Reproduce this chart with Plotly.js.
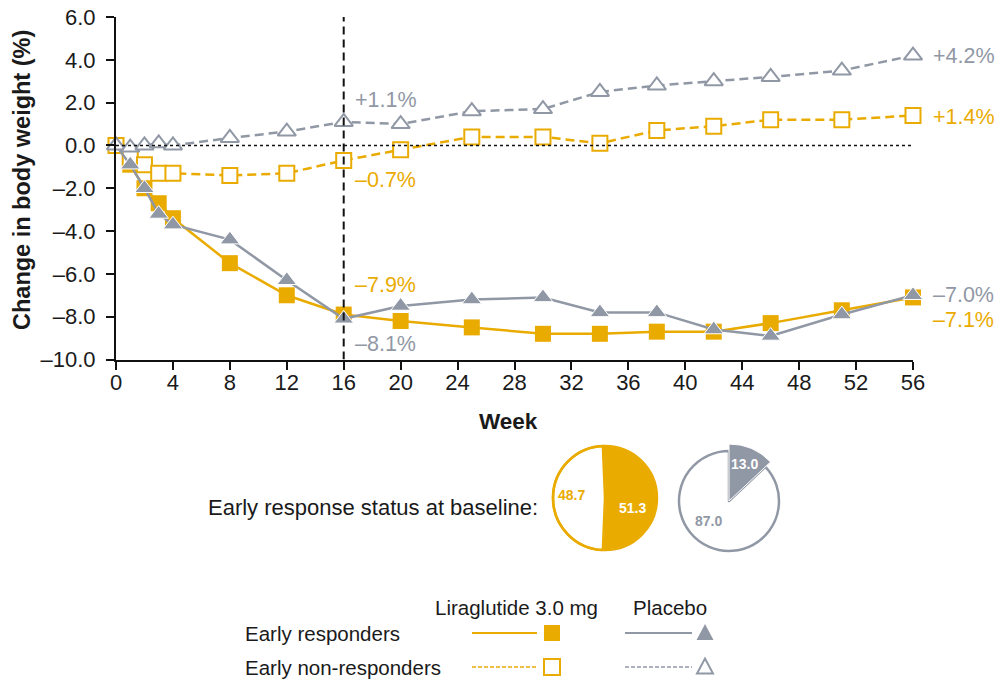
<!DOCTYPE html>
<html>
<head>
<meta charset="utf-8">
<script src="https://cdn.plot.ly/plotly-3.0.1.min.js"></script>
<style>
  html, body { margin: 0; padding: 0; background: #fff; }
  #chart { width: 1001px; height: 679px; }
</style>
</head>
<body>
<div id="chart"></div>
<script>
// Study weeks at which body weight was measured
const weeks = [0, 1, 2, 3, 4, 8, 12, 16, 20, 25, 30, 34, 38, 42, 46, 51, 56];

// Mean change in body weight (%) by treatment and early-response status
const liraResponders     = [0, -0.9, -2.0, -2.7, -3.4, -5.5, -7.0, -7.9, -8.2, -8.5, -8.8, -8.8, -8.7, -8.7, -8.3, -7.7, -7.1];
const liraNonResponders  = [0, -0.6, -0.9, -1.3, -1.3, -1.4, -1.3, -0.7, -0.2, 0.4, 0.4, 0.1, 0.7, 0.9, 1.2, 1.2, 1.4];
const placeboResponders  = [0, -0.9, -2.0, -3.2, -3.7, -4.4, -6.3, -8.1, -7.5, -7.2, -7.1, -7.8, -7.8, -8.6, -8.9, -7.9, -7.0];
const placeboNonResponders = [0, -0.1, 0.0, 0.1, 0.0, 0.35, 0.65, 1.1, 1.0, 1.6, 1.7, 2.5, 2.8, 3.0, 3.2, 3.5, 4.2];

// Axis ticks
const xTickVals = [0, 4, 8, 12, 16, 20, 24, 28, 32, 36, 40, 44, 48, 52, 56];
const yTickVals = [-10, -8, -6, -4, -2, 0, 2, 4, 6];
const yTickText = ['\u201310.0', '\u20138.0', '\u20136.0', '\u20134.0', '\u20132.0', '0.0', '2.0', '4.0', '6.0'];

// Share of patients (%) by early-response status at baseline
const pieLabels = ['Early responders', 'Early non-responders'];
const liraShares = [51.3, 48.7];
const placeboShares = [13.0, 87.0];

const GOLD = '#EAAB00';
const GRAY = '#9198A5';
const INK = '#1a1a1a';
const FONT = 'Arial, "Liberation Sans", Helvetica, sans-serif';
const W = 1001, H = 679;
const px = x => x / W;            // pixel -> paper (horizontal)
const py = y => 1 - y / H;        // pixel -> paper (vertical)

const fmtPct = v => (v > 0 ? '+' : '\u2013') + Math.abs(v).toFixed(1) + '%';
const fmtShare = v => v.toFixed(1);

const lineW = 2.5;
const dashed = '9px,5px';

const traces = [
  {
    x: weeks, y: liraResponders, type: 'scatter', mode: 'lines+markers', cliponaxis: false,
    line: { color: GOLD, width: lineW },
    marker: { symbol: 'square', size: 16, color: GOLD, line: { width: 0 } },
    hoverinfo: 'x+y'
  },
  {
    x: weeks, y: liraNonResponders, type: 'scatter', mode: 'lines+markers', cliponaxis: false,
    line: { color: GOLD, width: lineW, dash: dashed },
    marker: { symbol: 'square', size: 15, color: '#fff', line: { color: GOLD, width: 2 } },
    hoverinfo: 'x+y'
  },
  {
    x: weeks, y: placeboResponders, type: 'scatter', mode: 'lines+markers', cliponaxis: false,
    line: { color: GRAY, width: lineW },
    marker: { symbol: 'triangle-up', size: 17, color: GRAY, line: { color: '#fff', width: 1 } },
    hoverinfo: 'x+y'
  },
  {
    x: weeks, y: placeboNonResponders, type: 'scatter', mode: 'lines+markers', cliponaxis: false,
    line: { color: GRAY, width: lineW, dash: dashed },
    marker: { symbol: 'triangle-up', size: 16, color: '#fff', line: { color: GRAY, width: 2 } },
    hoverinfo: 'x+y'
  },
  // Baseline share of early responders, liraglutide 3.0 mg (responder wedge centred on the right)
  {
    type: 'pie', values: liraShares, labels: pieLabels, sort: false, direction: 'clockwise',
    rotation: 90 - liraShares[0] / 100 * 180,
    domain: { x: [px(553), px(657)], y: [py(550), py(446)] },
    marker: { colors: [GOLD, '#fff'], line: { color: ['#fff', GOLD], width: [1.5, 2.5] } },
    textinfo: 'none', hoverinfo: 'label+value', showlegend: false
  },
  // Outline ring of the liraglutide pie
  {
    type: 'pie', values: [1], labels: ['All'], sort: false,
    domain: { x: [px(553), px(657)], y: [py(550), py(446)] },
    marker: { colors: ['rgba(0,0,0,0)'], line: { color: GOLD, width: 2.5 } },
    textinfo: 'none', hoverinfo: 'skip', showlegend: false
  },
  // Baseline share of early responders, placebo (ring)
  {
    type: 'pie', values: placeboShares, labels: pieLabels, sort: false, direction: 'clockwise',
    domain: { x: [px(679), px(779)], y: [py(551), py(451)] },
    marker: { colors: ['rgba(0,0,0,0)', '#fff'], line: { color: ['rgba(0,0,0,0)', GRAY], width: 2.5 } },
    textinfo: 'none', hoverinfo: 'label+value', showlegend: false
  },
  // Placebo early-responder wedge, drawn slightly larger
  {
    type: 'pie', values: placeboShares, labels: pieLabels, sort: false, direction: 'clockwise',
    domain: { x: [px(672), px(786)], y: [py(558), py(444)] },
    marker: { colors: [GRAY, 'rgba(0,0,0,0)'], line: { color: ['#fff', 'rgba(0,0,0,0)'], width: [1, 0] } },
    textinfo: 'none', hoverinfo: 'label+value', showlegend: false
  }
];

const tFont = (size, color) => ({ family: FONT, size: size, color: color });

// Free text placed by pixel position on the page
const note = (x, y, text, size, color, xanchor) => ({
  xref: 'paper', yref: 'paper', x: px(x), y: py(y), text: text, showarrow: false,
  xanchor: xanchor || 'center', yanchor: 'middle', font: tFont(size, color)
});
// Value label tied to a data point
const valueLabel = (wk, v, xshift, yshift, color) => ({
  x: wk, y: v, xshift: xshift, yshift: yshift, xanchor: 'left', yanchor: 'middle',
  text: fmtPct(v), showarrow: false, font: tFont(21.5, color)
});

const annotations = [
  // Axis titles
  Object.assign(note(22, 180, '<b>Change in body weight (%)</b>', 23.5, INK), { textangle: -90 }),
  note(508, 421, '<b>Week</b>', 22.5, INK),

  // Week 16 values
  valueLabel(16, placeboNonResponders[7], 9, 22, GRAY),
  valueLabel(16, liraNonResponders[7], 9, -20, GOLD),
  valueLabel(16, liraResponders[7], 9, 30, GOLD),
  valueLabel(16, placeboResponders[7], 9, -25, GRAY),

  // Week 56 values
  valueLabel(56, placeboNonResponders[16], 18, 0, GRAY),
  valueLabel(56, liraNonResponders[16], 18, -2, GOLD),
  valueLabel(56, placeboResponders[16], 18, 0, GRAY),
  valueLabel(56, liraResponders[16], 18, -23, GOLD),

  // Pie panel
  note(540, 507, 'Early response status at baseline:', 22, INK, 'right'),
  note(632, 508, '<b>' + fmtShare(liraShares[0]) + '</b>', 14, '#fff'),
  note(571, 495, '<b>' + fmtShare(liraShares[1]) + '</b>', 14, GOLD),
  note(744, 464, '<b>' + fmtShare(placeboShares[0]) + '</b>', 14, '#fff'),
  note(708, 521, '<b>' + fmtShare(placeboShares[1]) + '</b>', 14, GRAY),

  // Legend key
  note(516, 607, 'Liraglutide 3.0 mg', 20.5, INK),
  note(670, 607, 'Placebo', 20.5, INK),
  note(243, 633, 'Early responders', 20.5, INK, 'left'),
  note(243, 667, 'Early non-responders', 20.5, INK, 'left')
];

const tri = (cx, cy, w, h) => {
  const x0 = px(cx - w / 2), x1 = px(cx + w / 2), xm = px(cx), yb = py(cy + h / 2), yt = py(cy - h / 2);
  return `M${x0},${yb} L${x1},${yb} L${xm},${yt} Z`;
};

const shapes = [
  // Zero reference line
  { type: 'line', xref: 'x', yref: 'y', x0: 0, x1: 56.6, y0: 0, y1: 0, line: { color: '#111', width: 1.6, dash: 'dot' } },
  // Week 16 marker line
  { type: 'line', xref: 'x', yref: 'y', x0: 16, x1: 16, y0: -10, y1: 6, line: { color: '#111', width: 2, dash: '8px,5px' } },

  // Legend key glyphs
  { type: 'line', xref: 'paper', yref: 'paper', x0: px(472), x1: px(537), y0: py(633), y1: py(633), line: { color: GOLD, width: 2 } },
  { type: 'rect', xref: 'paper', yref: 'paper', x0: px(544), x1: px(560), y0: py(641), y1: py(625), fillcolor: GOLD, line: { width: 0 } },
  { type: 'line', xref: 'paper', yref: 'paper', x0: px(625), x1: px(692), y0: py(633), y1: py(633), line: { color: GRAY, width: 2 } },
  { type: 'path', xref: 'paper', yref: 'paper', path: tri(705, 632, 17, 16), fillcolor: GRAY, line: { width: 0 } },
  { type: 'line', xref: 'paper', yref: 'paper', x0: px(472), x1: px(537), y0: py(667), y1: py(667), line: { color: GOLD, width: 1.5, dash: '4px,2px' } },
  { type: 'rect', xref: 'paper', yref: 'paper', x0: px(544), x1: px(560), y0: py(675), y1: py(659), fillcolor: '#fff', line: { color: GOLD, width: 2 } },
  { type: 'line', xref: 'paper', yref: 'paper', x0: px(625), x1: px(692), y0: py(667), y1: py(667), line: { color: GRAY, width: 1.5, dash: '4px,2px' } },
  { type: 'path', xref: 'paper', yref: 'paper', path: tri(705, 666, 16, 15), fillcolor: '#fff', line: { color: GRAY, width: 2 } }
];

const axisCommon = {
  ticks: 'outside', ticklen: 8, tickwidth: 2, tickcolor: '#111',
  showline: true, linecolor: '#111', linewidth: 2, showgrid: false, zeroline: false,
  tickfont: { family: FONT, size: 22, color: INK }, fixedrange: true
};

const layout = {
  width: W, height: H,
  margin: { l: 0, r: 0, t: 0, b: 0 },
  paper_bgcolor: '#fff', plot_bgcolor: 'rgba(0,0,0,0)',
  showlegend: false,
  font: { family: FONT, color: INK },
  xaxis: Object.assign({
    domain: [px(116), px(913)], range: [0, 56], anchor: 'y', tickvals: xTickVals, ticklabelstandoff: -6
  }, axisCommon),
  yaxis: Object.assign({
    domain: [py(359.5), py(17)], range: [-10, 6], anchor: 'x',
    tickvals: yTickVals, ticktext: yTickText, ticklabelstandoff: 6
  }, axisCommon),
  annotations: annotations,
  shapes: shapes
};

Plotly.newPlot('chart', traces, layout, { displayModeBar: false, staticPlot: true });
</script>
</body>
</html>
